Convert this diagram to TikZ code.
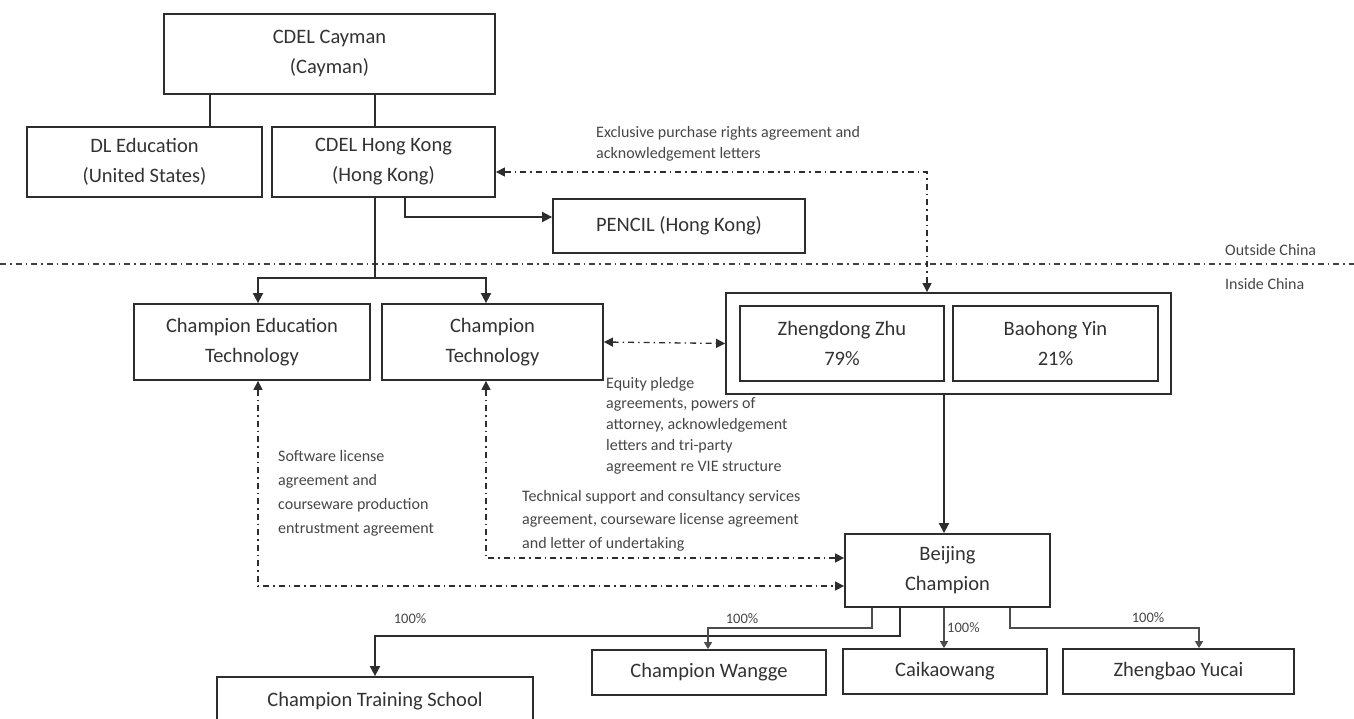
\documentclass[tikz,border=0pt]{standalone}
\usepackage{fontspec}
\setmainfont{Carlito}
\definecolor{LineGray}{RGB}{45, 45, 45}
\definecolor{TextGray}{RGB}{50, 50, 50}
\definecolor{NoteGray}{RGB}{70, 70, 70}
\usetikzlibrary{arrows.meta, positioning, calc}

\begin{document}
\begin{tikzpicture}[x=1pt, y=-1pt,
    box/.style={draw=LineGray, line width=1.8pt, rectangle, inner sep=0pt, align=center, text=TextGray, font=\fontsize{20.5}{30}\selectfont},
    note/.style={inner sep=0pt, align=left, text=NoteGray, font=\fontsize{16}{21}\selectfont},
    pct/.style={inner sep=0pt, text=NoteGray, font=\fontsize{14.5}{16}\selectfont},
    link/.style={draw=LineGray, line width=1.8pt},
    own/.style={draw=LineGray, line width=1.8pt, -{Triangle[length=10pt,width=10pt]}},
    sub/.style={draw=LineGray!85, line width=1.3pt, -{Triangle[length=7pt,width=8pt]}},
    pact/.style={draw=LineGray, line width=1.3pt, dash pattern=on 6pt off 4pt on 1.5pt off 4pt, {Triangle[length=9pt,width=9pt]}-{Triangle[length=9pt,width=9pt]}},
    border/.style={draw=LineGray!90, line width=1.3pt, dash pattern=on 6pt off 4pt on 1.5pt off 4pt}
  ]
  \useasboundingbox (0,0) rectangle (1354,719);

  % Columns and rows of the connectors
  \coordinate (cDL) at (210,0);
  \coordinate (cHK) at (375,0);
  \coordinate (cPen) at (405,0);
  \coordinate (cEd) at (258,0);
  \coordinate (cTech) at (486,0);
  \coordinate (cEx) at (927,0);
  \coordinate (cOwn) at (944,0);
  \coordinate (cB1) at (872,0);
  \coordinate (cB2) at (900,0);
  \coordinate (cWg) at (708,0);
  \coordinate (cZb1) at (1010,0);
  \coordinate (cZb2) at (1199,0);
  \coordinate (rPen) at (0,217);
  \coordinate (rEx) at (0,172);
  \coordinate (rTech) at (0,558);
  \coordinate (rEd) at (0,586);
  \coordinate (rWg) at (0,628);
  \coordinate (rSch) at (0,636);
  \coordinate (hkjoin) at (375,278);

  % Outside China
  \node[box, minimum width=331, minimum height=80] (cayman) at (329.5,54) {CDEL Cayman\\(Cayman)};
  \node[box, minimum width=235, minimum height=70] (dledu) at (144.5,162) {DL Education\\(United States)};
  \node[box, minimum width=223, minimum height=70] (cdelhk) at (383.5,162) {CDEL Hong Kong\\(Hong Kong)};
  \node[box, minimum width=252, minimum height=54] (pencil) at (679,226) {PENCIL (Hong Kong)};

  % Inside China
  \node[box, minimum width=236, minimum height=76] (ched) at (252,342) {Champion Education\\Technology};
  \node[box, minimum width=221, minimum height=76] (chtech) at (492.5,342) {Champion\\Technology};
  \node[box, minimum width=445, minimum height=101] (holders) at (948.5,343.5) {};
  \node[box, minimum width=204, minimum height=75] (zhu) at (842,343.5) {Zhengdong Zhu\\79\%};
  \node[box, minimum width=205, minimum height=75] (yin) at (1055.5,343.5) {Baohong Yin\\21\%};
  \node[box, minimum width=205, minimum height=73] (beijing) at (947.5,570.5) {Beijing\\Champion};
  \node[box, minimum width=316, minimum height=48] (school) at (375,701) {Champion Training School};
  \node[box, minimum width=234, minimum height=45] (wangge) at (709,672.5) {Champion Wangge};
  \node[box, minimum width=204, minimum height=45] (caikao) at (945,671.5) {Caikaowang};
  \node[box, minimum width=231, minimum height=45] (zhengbao) at (1178.5,671.5) {Zhengbao Yucai};

  % Border line
  \draw[border] (0,264) -- (1354,264);
  \node[note, anchor=west] (outside) at (1225,250) {Outside China};
  \node[note, anchor=west] (inside) at (1225,284) {Inside China};

  % Ownership
  \draw[link] (cayman.south -| cDL) -- (dledu.north -| cDL);
  \draw[link] (cayman.south -| cHK) -- (cdelhk.north -| cHK);
  \draw[link] (cdelhk.south -| cHK) -- (hkjoin);
  \draw[own] (hkjoin) -| (ched.north -| cEd);
  \draw[own] (hkjoin) -| (chtech.north -| cTech);
  \draw[own] (cdelhk.south -| cPen) |- (pencil.west |- rPen);
  \draw[own] (holders.south -| cOwn) -- (beijing.north -| cOwn);
  \draw[own] (beijing.south -| cB2) |- (cHK |- rSch) -- (school.north -| cHK);
  \draw[sub] (beijing.south -| cB1) |- (cWg |- rWg) -- (wangge.north -| cWg);
  \draw[sub] (beijing.south -| cOwn) -- (caikao.north -| cOwn);
  \draw[sub] (beijing.south -| cZb1) |- (cZb2 |- rWg) -- (zhengbao.north -| cZb2);

  % Contractual arrangements
  \draw[pact] (cdelhk.east |- rEx) -| (holders.north -| cEx);
  \draw[pact] (chtech.east) -- (holders.west);
  \draw[pact] (chtech.south -| cTech) |- (beijing.west |- rTech);
  \draw[pact] (ched.south -| cEd) |- (beijing.west |- rEd);

  % Labels
  \node[note, anchor=west] (exclnote) at (596,143.5) {Exclusive purchase rights agreement and\\acknowledgement letters};
  \node[note, anchor=west, font=\fontsize{16}{20.8}\selectfont] (equitynote) at (606,425.5) {Equity pledge\\agreements, powers of\\attorney, acknowledgement\\letters and tri-party\\agreement re VIE structure};
  \node[note, anchor=west, font=\fontsize{16}{24}\selectfont] (softnote) at (278,493) {Software license\\agreement and\\courseware production\\entrustment agreement};
  \node[note, anchor=west, font=\fontsize{16}{23.5}\selectfont] (technote) at (522,520.5) {Technical support and consultancy services\\agreement, courseware license agreement\\and letter of undertaking};
  \node[pct] (pctsch) at (410,619) {100\%};
  \node[pct] (pctwg) at (742,619) {100\%};
  \node[pct, anchor=west] (pctck) at (947,628) {100\%};
  \node[pct] (pctzb) at (1148,618) {100\%};
\end{tikzpicture}
\end{document}
